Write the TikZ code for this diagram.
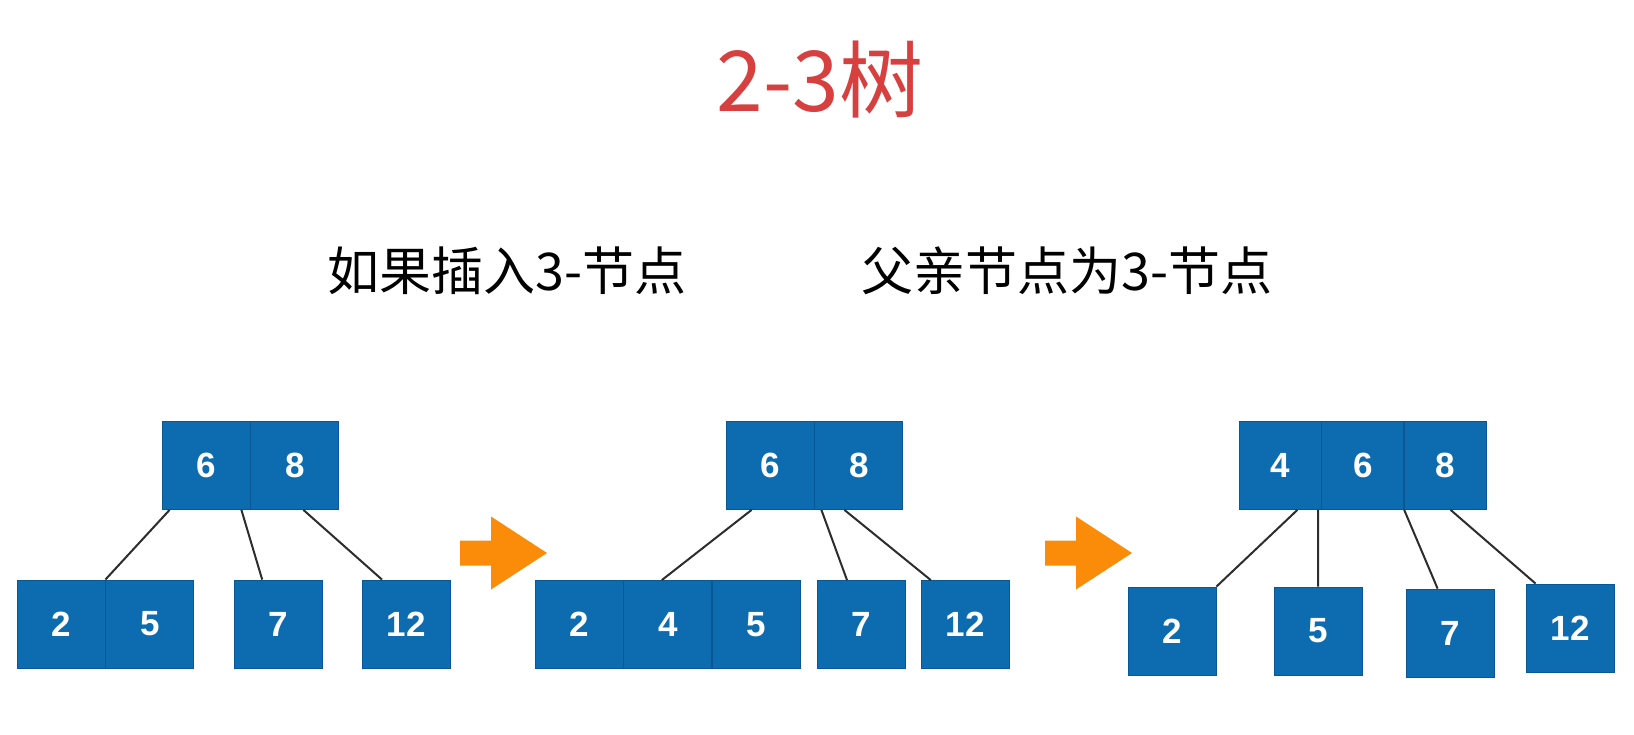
\documentclass[tikz,border=0pt]{standalone}
\usepackage{fontspec}
\usetikzlibrary{positioning}
\newfontfamily\cjk{Noto Sans CJK SC}
\newfontfamily\numfont{Liberation Sans}
\definecolor{treeblue}{RGB}{13,108,176}
\definecolor{treeedge}{RGB}{8,88,150}
\definecolor{linkgray}{RGB}{45,45,45}
\definecolor{pushorange}{RGB}{250,140,10}
\definecolor{headred}{RGB}{214,64,62}
\tikzset{
  keybox/.style={rectangle, fill=treeblue, draw=treeedge, line width=0.4pt,
    minimum width=44pt, minimum height=44pt, inner sep=0pt, text=white,
    font=\numfont\bfseries\fontsize{17.5}{20}\selectfont},
  link/.style={draw=linkgray, line width=1pt},
  heading/.style={text=headred, font=\cjk\fontsize{42}{48}\selectfont},
  note/.style={text=black, font=\cjk\fontsize{26}{30}\selectfont},
}

\begin{document}
\begin{tikzpicture}[x=0.5pt, y=-0.5pt,
    node distance=0pt]
    \fill[white] (0,0) rectangle (1634,734);
    \useasboundingbox (0,0) rectangle (1634,734);
    \node[heading] (title) at (820,80) {2-3树};
    \node[note] (insertnote) at (507,271) {如果插入3-节点};
    \node[note] (parentnote) at (1067,271) {父亲节点为3-节点};
    % first tree
    \node[keybox] (a6) at (206,465.5) {6};
    \node[keybox] (a8) [right=of a6] {8};
    \node[keybox] (a2) at (61,624) {2};
    \node[keybox] (a5) [right=of a2] {5};
    \node[keybox] (a7) [right=20pt of a5] {7};
    \node[keybox] (a12) [right=19.5pt of a7] {12};
    \path[link] ([xshift=4pt]a6.south west) -- (a2.north east)
        ([xshift=-4.5pt]a6.south east) -- ([xshift=14pt]a7.north west)
        ([xshift=26.5pt]a8.south west) -- ([xshift=10pt]a12.north west);
    % second tree
    \node[keybox] (b6) at (770,465.5) {6};
    \node[keybox] (b8) [right=of b6] {8};
    \node[keybox] (b2) at (579,624.5) {2};
    \node[keybox] (b4) [right=of b2] {4};
    \node[keybox] (b5) [right=of b4] {5};
    \node[keybox] (b7) [right=8pt of b5] {7};
    \node[keybox] (b12) [right=7.5pt of b7] {12};
    \path[link] ([xshift=13pt]b6.south west) -- ([xshift=-3pt]b4.north)
        ([xshift=3.5pt]b8.south west) -- ([xshift=15pt]b7.north west)
        ([xshift=15pt]b8.south west) -- ([xshift=5pt]b12.north west);
    % third tree
    \node[keybox, minimum width=41pt] (c4) at (1280,465.5) {4};
    \node[keybox, minimum width=41pt] (c6) [right=of c4] {6};
    \node[keybox, minimum width=41pt] (c8) [right=of c6] {8};
    \node[keybox] (c2) at (1172,631) {2};
    \node[keybox] (c5) at (1318,631) {5};
    \node[keybox] (c7) at (1450,633) {7};
    \node[keybox] (c12) at (1570,628) {12};
    \path[link] ([xshift=-12pt]c4.south east) -- (c2.north east)
        (c5.north) -- (c5.north |- c4.south)
        (c6.south east) -- ([xshift=16pt]c7.north west)
        ([xshift=2.5pt]c8.south) -- ([xshift=5pt]c12.north west);
    % arrows between steps
    \foreach \ax in {460,1045}
        \fill[pushorange] (\ax,540.5) -- ++(31,0) -- ++(0,-24) -- ++(56,36.5)
            -- ++(-56,36.5) -- ++(0,-24) -- ++(-31,0) -- cycle;
\end{tikzpicture}
\end{document}
